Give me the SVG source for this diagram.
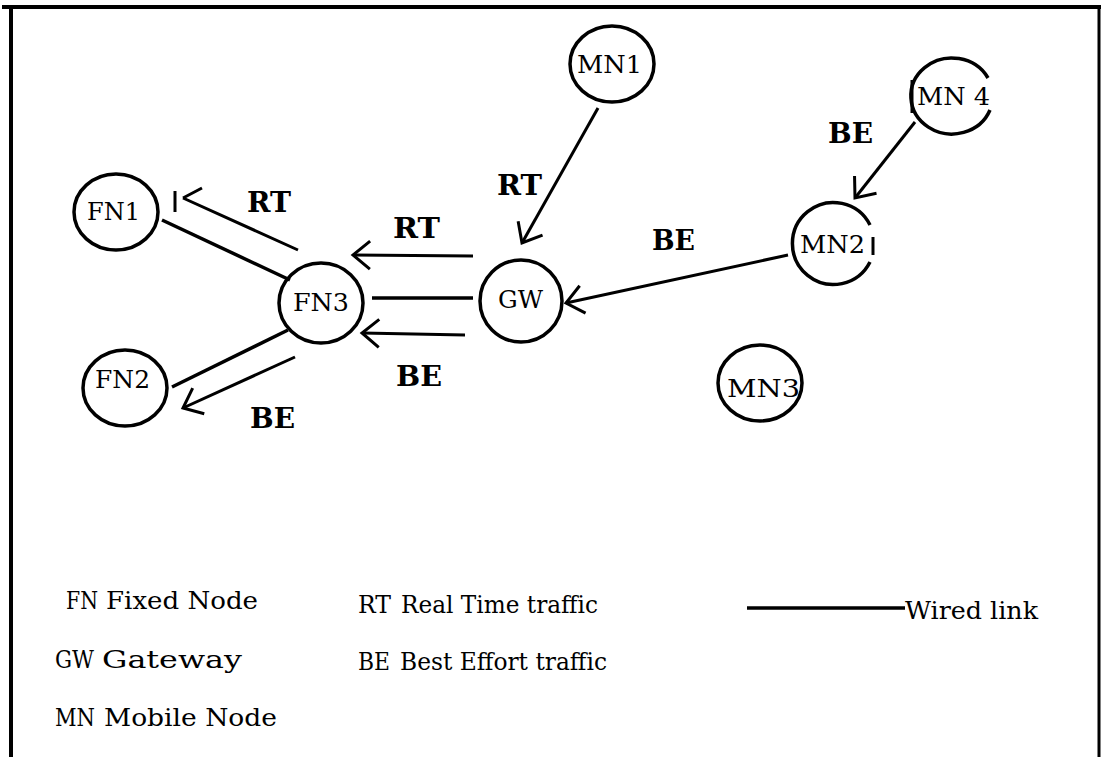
<svg xmlns="http://www.w3.org/2000/svg" width="1103" height="757" viewBox="0 0 1103 757">
<style>
.frame{stroke:#000;stroke-width:4;fill:none}
.node{fill:none;stroke:#000;stroke-width:3.5}
.ntext{font-family:"DejaVu Serif","Liberation Serif",serif;font-size:24px;fill:#000}
.lbl{font-family:"DejaVu Serif","Liberation Serif",serif;font-size:27px;font-weight:bold;fill:#000}
.leg{font-family:"DejaVu Serif","Liberation Serif",serif;font-size:25px;fill:#000}
.abbr{font-family:"DejaVu Serif","Liberation Serif",serif;font-size:24px;fill:#000}
.wire{stroke:#000;stroke-width:3.5;fill:none}
.arr{stroke:#000;stroke-width:3;fill:none;marker-end:url(#vhead)}
</style>
<defs>
<marker id="vhead" markerUnits="userSpaceOnUse" viewBox="-22 -18 26 36" refX="0" refY="0" markerWidth="26" markerHeight="36" orient="auto">
<path d="M -17 -14 L 0 0 L -17 14" fill="none" stroke="#000" stroke-width="3"/>
</marker>
</defs>
<rect width="1103" height="757" fill="#fff"/>
<g id="frame">
<line class="frame" x1="2" y1="7" x2="1101" y2="7"/>
<line class="frame" x1="11" y1="5" x2="11" y2="757"/>
<line class="frame" x1="1099" y1="5" x2="1099" y2="757" style="stroke-width:3"/>
</g>
<g id="connectors">
<line class="wire" x1="162" y1="220" x2="290" y2="280"/>
<line class="wire" x1="288" y1="330" x2="172" y2="387"/>
<line class="wire" x1="372" y1="298" x2="473" y2="298"/>
<path class="wire" d="M 298 250 L 183 198 M 202 188 L 183 198 M 175 191 L 175 212" style="stroke-width:3"/>
<line class="arr" x1="295" y1="357" x2="183" y2="408"/>
<line class="arr" x1="473" y1="256" x2="353" y2="255"/>
<line class="arr" x1="465" y1="335" x2="362" y2="333"/>
<line class="arr" x1="598" y1="108" x2="522" y2="243"/>
<line class="arr" x1="788" y1="255" x2="566" y2="303"/>
<line class="arr" x1="915" y1="122" x2="855" y2="198"/>
</g>
<g id="edge-labels">
<text class="lbl" x="247" y="212" textLength="44" lengthAdjust="spacingAndGlyphs">RT</text>
<text class="lbl" x="393" y="238" textLength="47" lengthAdjust="spacingAndGlyphs">RT</text>
<text class="lbl" x="396" y="386" textLength="46" lengthAdjust="spacingAndGlyphs">BE</text>
<text class="lbl" x="250" y="428" textLength="45" lengthAdjust="spacingAndGlyphs">BE</text>
<text class="lbl" x="497" y="195" textLength="45" lengthAdjust="spacingAndGlyphs">RT</text>
<text class="lbl" x="652" y="250" textLength="43" lengthAdjust="spacingAndGlyphs">BE</text>
<text class="lbl" x="828" y="143" textLength="45" lengthAdjust="spacingAndGlyphs">BE</text>
</g>
<g id="FN1">
<ellipse class="node" cx="116" cy="212" rx="42" ry="38"/>
<text class="ntext" x="87" y="220" textLength="53" lengthAdjust="spacingAndGlyphs">FN1</text>
</g>
<g id="FN2">
<ellipse class="node" cx="125" cy="388" rx="42" ry="38"/>
<text class="ntext" x="95" y="388" textLength="55" lengthAdjust="spacingAndGlyphs">FN2</text>
</g>
<g id="FN3">
<ellipse class="node" cx="321" cy="303" rx="42" ry="40"/>
<text class="ntext" x="293" y="311" textLength="56" lengthAdjust="spacingAndGlyphs">FN3</text>
</g>
<g id="GW">
<ellipse class="node" cx="521" cy="301" rx="41" ry="41"/>
<text class="ntext" x="498" y="308" textLength="45" lengthAdjust="spacingAndGlyphs">GW</text>
</g>
<g id="MN1">
<ellipse class="node" cx="612" cy="64" rx="42" ry="38"/>
<text class="ntext" x="577" y="73" textLength="65" lengthAdjust="spacingAndGlyphs">MN1</text>
</g>
<g id="MN4">
<path class="node" d="M 990 110 A 41 38 0 1 1 988 78"/>
<line class="node" x1="912" y1="80" x2="912" y2="113" style="stroke-width:3"/>
<text class="ntext" x="917" y="105" textLength="73" lengthAdjust="spacingAndGlyphs">MN 4</text>
</g>
<g id="MN2">
<path class="node" d="M 870 262 A 41 41 0 1 1 870 225"/>
<line class="node" x1="873" y1="237" x2="873" y2="255" style="stroke-width:3"/>
<text class="ntext" x="800" y="253" textLength="65" lengthAdjust="spacingAndGlyphs">MN2</text>
</g>
<g id="MN3">
<ellipse class="node" cx="760" cy="383" rx="42" ry="38"/>
<text class="ntext" x="727" y="397" textLength="73" lengthAdjust="spacingAndGlyphs">MN3</text>
</g>
<g id="legend">
<text class="abbr" x="66" y="609" textLength="32" lengthAdjust="spacingAndGlyphs">FN</text>
<text class="leg" x="106" y="609" textLength="152" lengthAdjust="spacingAndGlyphs">Fixed Node</text>
<text class="abbr" x="55" y="668" textLength="39" lengthAdjust="spacingAndGlyphs">GW</text>
<text class="leg" x="102" y="668" textLength="140" lengthAdjust="spacingAndGlyphs">Gateway</text>
<text class="abbr" x="55" y="726" textLength="40" lengthAdjust="spacingAndGlyphs">MN</text>
<text class="leg" x="104" y="726" textLength="173" lengthAdjust="spacingAndGlyphs">Mobile Node</text>
<text class="abbr" x="358" y="613" textLength="33" lengthAdjust="spacingAndGlyphs">RT</text>
<text class="leg" x="401" y="613" textLength="197" lengthAdjust="spacingAndGlyphs">Real Time traffic</text>
<text class="abbr" x="358" y="670" textLength="32" lengthAdjust="spacingAndGlyphs">BE</text>
<text class="leg" x="400" y="670" textLength="207" lengthAdjust="spacingAndGlyphs">Best Effort traffic</text>
<line class="wire" x1="747" y1="608" x2="905" y2="608"/>
<text class="leg" x="905" y="619" textLength="133" lengthAdjust="spacingAndGlyphs">Wired link</text>
</g>
</svg>
